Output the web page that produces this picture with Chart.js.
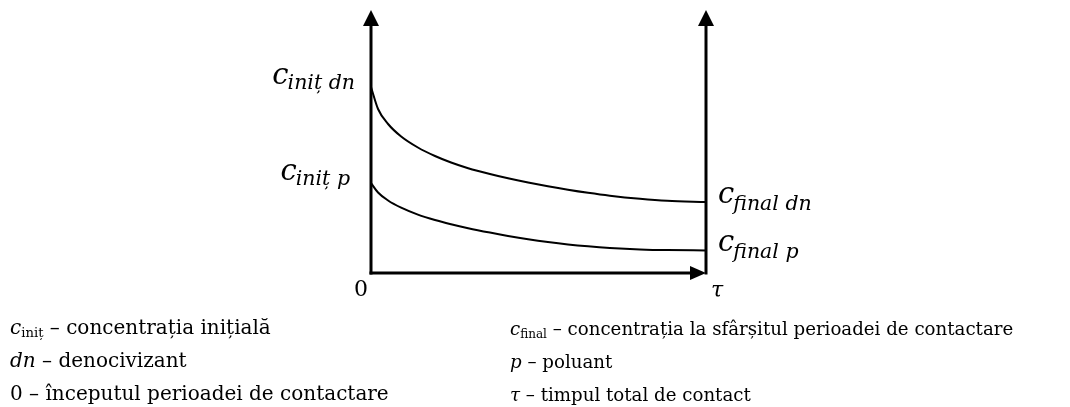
<!DOCTYPE html>
<html>
<head>
<meta charset="utf-8">
<script src="https://cdn.jsdelivr.net/npm/chart.js@4/dist/chart.umd.min.js"></script>
<style>
  html, body { margin: 0; padding: 0; background: #fff; }
  #wrap { position: relative; width: 1070px; height: 407px; overflow: hidden; }
  #c { position: absolute; left: 0; top: 0; }
  .leg { position: absolute; font-family: "DejaVu Serif", serif; line-height: 33px; color: #000; white-space: nowrap; }
  .leg i { font-style: italic; }
  .leg sub { font-size: 0.66em; vertical-align: -0.25em; line-height: 0; }
</style>
</head>
<body>
<div id="wrap">
  <canvas id="c" width="1070" height="407"></canvas>
  <div class="leg" style="left:10px; top:311px; font-size:20px;"><i>c</i><sub>iniț</sub> – concentrația inițială<br><i>dn</i> – denocivizant<br>0 – începutul perioadei de contactare</div>
  <div class="leg" style="left:510px; top:312px; font-size:18.2px;"><i>c</i><sub>final</sub> – concentrația la sfârșitul perioadei de contactare<br><i>p</i> – poluant<br><i>τ</i> – timpul total de contact</div>
</div>
<script>
// Time as a fraction of the total contact period (0 … τ)
const timePoints = [0, 0.021, 0.051, 0.090, 0.140, 0.191, 0.239, 0.290, 0.355, 0.409, 0.469, 0.528, 0.588, 0.648, 0.713, 0.803, 0.884, 1];
// Relative concentrations
const denocivizant = [186, 164, 149, 136.5, 125.5, 117, 110.5, 104.8, 99, 94.8, 90.6, 86.8, 83.3, 80.2, 77.3, 74.2, 72.2, 71];
const poluant      = [90, 80.5, 72.5, 65.3, 58.4, 53, 48.8, 44.8, 40.4, 37.1, 33.8, 31, 28.6, 26.7, 25.1, 23.6, 22.9, 22.6];
const xTickLabels = ['0', 'τ'];
const mainSymbol = 'c';
const initSubs  = ['iniț dn', 'iniț p'];
const finalSubs = ['final dn', 'final p'];
const yMax = 248;

const toPoints = (vals) => timePoints.map((t, i) => ({ x: t, y: vals[i] }));

const MATH = '"DejaVu Serif", serif';

function drawMath(ctx, x, yMain, ySub, main, sub, align) {
  ctx.font = 'italic 29px ' + MATH;
  const wMain = ctx.measureText(main).width;
  ctx.font = 'italic 20.5px ' + MATH;
  const wSub = ctx.measureText(sub).width;
  const total = wMain + wSub - 1;
  const x0 = align === 'right' ? x - total : x;
  ctx.textAlign = 'left';
  ctx.textBaseline = 'alphabetic';
  ctx.font = 'italic 29px ' + MATH;
  ctx.fillText(main, x0, yMain);
  ctx.font = 'italic 20.5px ' + MATH;
  ctx.fillText(sub, x0 + wMain - 1, ySub);
}

const axesPlugin = {
  id: 'axesPlugin',
  afterDatasetsDraw(chart) {
    const ctx = chart.ctx;
    const xs = chart.scales.x, ys = chart.scales.y;
    const x0 = xs.getPixelForValue(0), x1 = xs.getPixelForValue(1);
    const yb = ys.getPixelForValue(0), yt = ys.getPixelForValue(yMax);
    ctx.save();
    ctx.strokeStyle = '#000';
    ctx.fillStyle = '#000';
    ctx.lineWidth = 3;
    ctx.lineCap = 'square';
    // vertical axes with arrowheads
    [x0, x1].forEach(px => {
      ctx.beginPath();
      ctx.moveTo(px, yb);
      ctx.lineTo(px, yt);
      ctx.stroke();
      ctx.beginPath();
      ctx.moveTo(px, yt - 15);
      ctx.lineTo(px - 8, yt + 1);
      ctx.lineTo(px + 8, yt + 1);
      ctx.closePath();
      ctx.fill();
    });
    // horizontal axis with arrowhead
    ctx.beginPath();
    ctx.moveTo(x0, yb);
    ctx.lineTo(x1 - 14, yb);
    ctx.stroke();
    ctx.beginPath();
    ctx.moveTo(x1, yb);
    ctx.lineTo(x1 - 16, yb - 7);
    ctx.lineTo(x1 - 16, yb + 7);
    ctx.closePath();
    ctx.fill();

    // tick labels 0 and τ
    ctx.textAlign = 'center';
    ctx.textBaseline = 'middle';
    ctx.font = '22px ' + MATH;
    ctx.fillText(xTickLabels[0], x0 - 10, yb + 17);
    ctx.font = 'italic 22px ' + MATH;
    ctx.fillText(xTickLabels[1], x1 + 11, yb + 18);

    // series labels at start and end of each curve
    const sets = [denocivizant, poluant];
    const initOffsets = [16, 21];
    sets.forEach((vals, i) => {
      const ys0 = ys.getPixelForValue(vals[0]);
      const ys1 = ys.getPixelForValue(vals[vals.length - 1]);
      drawMath(ctx, x0 - initOffsets[i], ys0 - 3, ys0 + 2, mainSymbol, initSubs[i], 'right');
      drawMath(ctx, x1 + 12, ys1 + 1, ys1 + 8, mainSymbol, finalSubs[i], 'left');
    });
    ctx.restore();
  }
};

new Chart(document.getElementById('c'), {
  type: 'line',
  data: {
    datasets: [
      { label: 'dn', data: toPoints(denocivizant), borderColor: '#000', borderWidth: 2, pointRadius: 0, cubicInterpolationMode: 'monotone', fill: false },
      { label: 'p',  data: toPoints(poluant),      borderColor: '#000', borderWidth: 2, pointRadius: 0, cubicInterpolationMode: 'monotone', fill: false }
    ]
  },
  options: {
    responsive: false,
    animation: false,
    events: [],
    layout: { padding: { left: 371, right: 364, top: 25, bottom: 134 } },
    plugins: { legend: { display: false }, tooltip: { enabled: false } },
    scales: {
      x: { type: 'linear', min: 0, max: 1, grid: { display: false, drawTicks: false }, ticks: { display: false }, border: { display: false } },
      y: { min: 0, max: yMax, grid: { display: false, drawTicks: false }, ticks: { display: false }, border: { display: false } }
    }
  },
  plugins: [axesPlugin]
});
</script>
</body>
</html>
